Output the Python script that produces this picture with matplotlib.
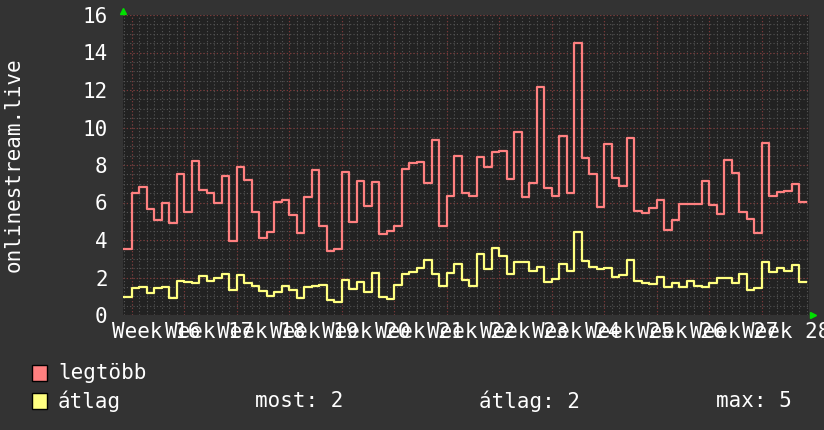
import numpy as np
import matplotlib
matplotlib.use('Agg')
import matplotlib.pyplot as plt
from matplotlib.patches import Rectangle

# daily values, first and last day only partly shown
legtobb = [3.5, 6.5, 6.85, 5.65, 5.05, 5.96, 4.92, 7.52, 5.51, 8.21,
           6.67, 6.52, 5.96, 7.41, 3.96, 7.91, 7.2, 5.47, 4.12, 4.44,
           6.04, 6.13, 5.33, 4.36, 6.31, 7.73, 4.75, 3.43, 3.52, 7.62,
           4.98, 7.16, 5.81, 7.11, 4.32, 4.48, 4.76, 7.77, 8.09, 8.14,
           7.06, 9.33, 4.76, 6.35, 8.48, 6.52, 6.36, 8.44, 7.91, 8.71,
           8.76, 7.25, 9.78, 6.31, 7.06, 12.14, 6.76, 6.36, 9.56, 6.52,
           14.52, 8.36, 7.52, 5.78, 9.12, 7.32, 6.9, 9.46, 5.56, 5.46,
           5.72, 6.13, 4.53, 5.07, 5.92, 5.92, 5.92, 7.16, 5.87, 5.37,
           8.27, 7.56, 5.51, 5.12, 4.39, 9.16, 6.35, 6.58, 6.63, 6.97,
           6.04]
atlag = [0.98, 1.46, 1.51, 1.19, 1.42, 1.51, 0.89, 1.81, 1.76, 1.69,
         2.08, 1.83, 1.99, 2.19, 1.35, 2.13, 1.69, 1.55, 1.28, 1.03,
         1.24, 1.55, 1.33, 0.89, 1.51, 1.55, 1.6, 0.8, 0.71, 1.88,
         1.37, 1.78, 1.24, 2.26, 0.98, 0.87, 1.58, 2.17, 2.31, 2.52,
         2.93, 2.17, 1.56, 2.22, 2.72, 1.87, 1.56, 3.25, 2.45, 3.56,
         3.16, 2.17, 2.84, 2.84, 2.36, 2.58, 1.78, 1.9, 2.72, 2.36,
         4.44, 2.9, 2.58, 2.47, 2.52, 2.04, 2.13, 2.93, 1.83, 1.72,
         1.65, 2.04, 1.51, 1.72, 1.51, 1.8, 1.56, 1.51, 1.72, 1.99,
         1.99, 1.72, 2.19, 1.33, 1.46, 2.81, 2.31, 2.49, 2.36, 2.67,
         1.78]
weeks = list(range(16, 29))
legend_stats = ['most: 2', 'átlag: 2', 'max: 5']

# time axis in days from the left edge
first_day = 1.2
days_shown = 91.47
last_end = 91.07
edges = np.concatenate([[0], first_day + np.arange(len(legtobb) - 1), [last_end]])

bg = '#333333'
plot_bg = '#222222'
red = '#ff8080'
yellow = '#ffff80'
mono = 'DejaVu Sans Mono'

fig = plt.figure(figsize=(8.24, 4.30), dpi=100, facecolor=bg)
ax = fig.add_axes([123 / 824, 115 / 430, 686 / 824, 300 / 430], facecolor=plot_bg)
ax.set_xlim(0, days_shown)
ax.set_ylim(0, 16)

# grid: minor every day / half unit, major every week / 2 units
minor_x = np.arange(first_day - 1, days_shown, 1.0)
major_x = np.arange(first_day, days_shown, 7.0)
minor_y = np.arange(0, 16.01, 0.5)
major_y = np.arange(0, 16.01, 2)
ax.vlines(minor_x, 0, 16, colors='#555555', lw=0.8, linestyles=(0, (1, 2)), zorder=1)
ax.hlines(minor_y, 0, days_shown, colors='#555555', lw=0.8, linestyles=(0, (1, 2)), zorder=1)
ax.vlines(major_x, 0, 16, colors='#803535', lw=0.8, linestyles=(0, (1, 2)), zorder=1)
ax.hlines(major_y, 0, days_shown, colors='#803535', lw=0.8, linestyles=(0, (1, 2)), zorder=1)

ax.step(edges, np.append(legtobb, legtobb[-1]), where='post', color=red, lw=1.6, zorder=3)
ax.step(edges, np.append(atlag, atlag[-1]), where='post', color=yellow, lw=1.6, zorder=3)

for s in ax.spines.values():
    s.set_visible(False)

ax.set_yticks(major_y)
ax.set_yticklabels([str(int(v)) for v in major_y], fontsize=15, family=mono, color='white')
label_x = first_day + 3.27 + 7 * np.arange(len(weeks))
ax.set_xticks(label_x)
ax.set_xticklabels(['Week %d' % w for w in weeks], fontsize=15, family=mono, color='white')
ax.tick_params(axis='y', length=0, pad=11)
ax.tick_params(axis='x', length=0, pad=5)
for lab in ax.get_xticklabels():
    lab.set_clip_on(False)

fig.text(14 / 824, 1 - 165 / 430, 'onlinestream.live', rotation=90, fontsize=15,
         family=mono, color='white', ha='center', va='center')

# green arrow heads at axis ends
fig.lines.append(plt.Line2D([123 / 824], [1 - 11 / 430], marker='^', ms=5, color='#00e000',
                            transform=fig.transFigure))
fig.lines.append(plt.Line2D([813 / 824], [1 - 315 / 430], marker='>', ms=5, color='#00e000',
                            transform=fig.transFigure))

# legend
for yc, col, name in [(373, red, 'legtöbb'), (401, yellow, 'átlag')]:
    fig.patches.append(Rectangle((32 / 824, 1 - (yc + 8) / 430), 15 / 824, 16 / 430,
                                 facecolor=col, edgecolor='black', lw=1,
                                 transform=fig.transFigure))
    fig.text(58 / 824, 1 - yc / 430, name, fontsize=15, family=mono, color='white',
             va='center')
for xs, txt in zip([255, 479, 716], legend_stats):
    fig.text(xs / 824, 1 - 401 / 430, txt, fontsize=15, family=mono, color='white',
             va='center')

fig.savefig('out.png', dpi=100, facecolor=bg)
